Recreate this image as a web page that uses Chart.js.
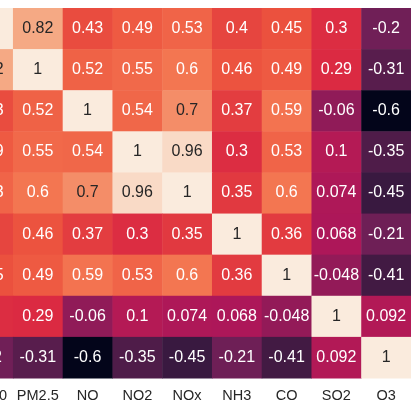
<!DOCTYPE html>
<html>
<head>
<meta charset="utf-8">
<script src="https://cdn.jsdelivr.net/npm/chart.js@4"></script>
<style>
  html, body { margin: 0; padding: 0; background: #fff; }
  #wrap { width: 411px; height: 411px; }
</style>
</head>
<body>
<div id="wrap"><canvas id="heatChart"></canvas></div>
<script>
// Datos de la matriz de correlación
const labels = ['PM10', 'PM2.5', 'NO', 'NO2', 'NOx', 'NH3', 'CO', 'SO2', 'O3'];
const corr = [
    [1, 0.82, 0.43, 0.49, 0.53, 0.4, 0.45, 0.3, -0.2],
    [0.82, 1, 0.52, 0.55, 0.6, 0.46, 0.49, 0.29, -0.31],
    [0.43, 0.52, 1, 0.54, 0.7, 0.37, 0.59, -0.06, -0.6],
    [0.49, 0.55, 0.54, 1, 0.96, 0.3, 0.53, 0.1, -0.35],
    [0.53, 0.6, 0.7, 0.96, 1, 0.35, 0.6, 0.074, -0.45],
    [0.4, 0.46, 0.37, 0.3, 0.35, 1, 0.36, 0.068, -0.21],
    [0.45, 0.49, 0.59, 0.53, 0.6, 0.36, 1, -0.048, -0.41],
    [0.3, 0.29, -0.06, 0.1, 0.074, 0.068, -0.048, 1, 0.092],
    [-0.2, -0.31, -0.6, -0.35, -0.45, -0.21, -0.41, 0.092, 1]
];
const vmin = -0.6, vmax = 1;

// Paleta "rocket"
const stops = [
    [0, [3, 5, 26]], [0.083, [53, 25, 62]], [0.25, [112, 31, 87]],
    [0.417, [173, 23, 89]], [0.55, [218, 40, 66]], [0.66, [236, 82, 62]], [0.75, [243, 118, 81]],
    [0.917, [246, 180, 143]], [1, [250, 235, 221]]
];
function colorFor(v) {
    const t = Math.max(0, Math.min(1, (v - vmin) / (vmax - vmin)));
    for (let i = 1; i < stops.length; i++) {
        if (t <= stops[i][0]) {
            const [t0, c0] = stops[i - 1], [t1, c1] = stops[i];
            const f = (t - t0) / (t1 - t0);
            return 'rgb(' + c0.map((c, k) => Math.round(c + (c1[k] - c) * f)).join(',') + ')';
        }
    }
    return 'rgb(250,235,221)';
}

const points = [];
corr.forEach((row, r) => row.forEach((v, c) => points.push({ x: c, y: r, v: v })));

const heatPlugin = {
    id: 'heat',
    beforeDatasetsDraw(chart) {
        const ctx = chart.ctx, xs = chart.scales.x, ys = chart.scales.y, a = chart.chartArea;
        ctx.save();
        ctx.textAlign = 'center';
        ctx.textBaseline = 'middle';
        chart.data.datasets[0].data.forEach(p => {
            const x0 = xs.getPixelForValue(p.x - 0.5), x1 = xs.getPixelForValue(p.x + 0.5);
            const y0 = ys.getPixelForValue(p.y - 0.5), y1 = ys.getPixelForValue(p.y + 0.5);
            ctx.fillStyle = colorFor(p.v);
            ctx.fillRect(x0, y0, x1 - x0 + 0.5, y1 - y0 + 0.5);
            ctx.fillStyle = p.v >= 0.65 ? '#262626' : '#ffffff';
            ctx.font = '16px "Liberation Sans", Arial, sans-serif';
            ctx.fillText(String(p.v), (x0 + x1) / 2, (y0 + y1) / 2);
        });
        ctx.fillStyle = '#262626';
        ctx.font = '14.5px "Liberation Sans", Arial, sans-serif';
        labels.forEach((l, i) => {
            ctx.fillText(l, xs.getPixelForValue(i), a.bottom + 18);
        });
        ctx.restore();
    }
};

new Chart(document.getElementById('heatChart'), {
    type: 'scatter',
    data: { datasets: [{ data: points, pointRadius: 0, pointHoverRadius: 0 }] },
    options: {
        responsive: true,
        maintainAspectRatio: false,
        animation: false,
        layout: { padding: { top: 8, bottom: 33, left: 0, right: 0 } },
        plugins: { legend: { display: false }, tooltip: { enabled: false } },
        scales: {
            x: { type: 'linear', min: 0.24, max: 8.5, display: false },
            y: { type: 'linear', min: -0.5, max: 8.5, reverse: true, display: false }
        }
    },
    plugins: [heatPlugin]
});
</script>
</body>
</html>
